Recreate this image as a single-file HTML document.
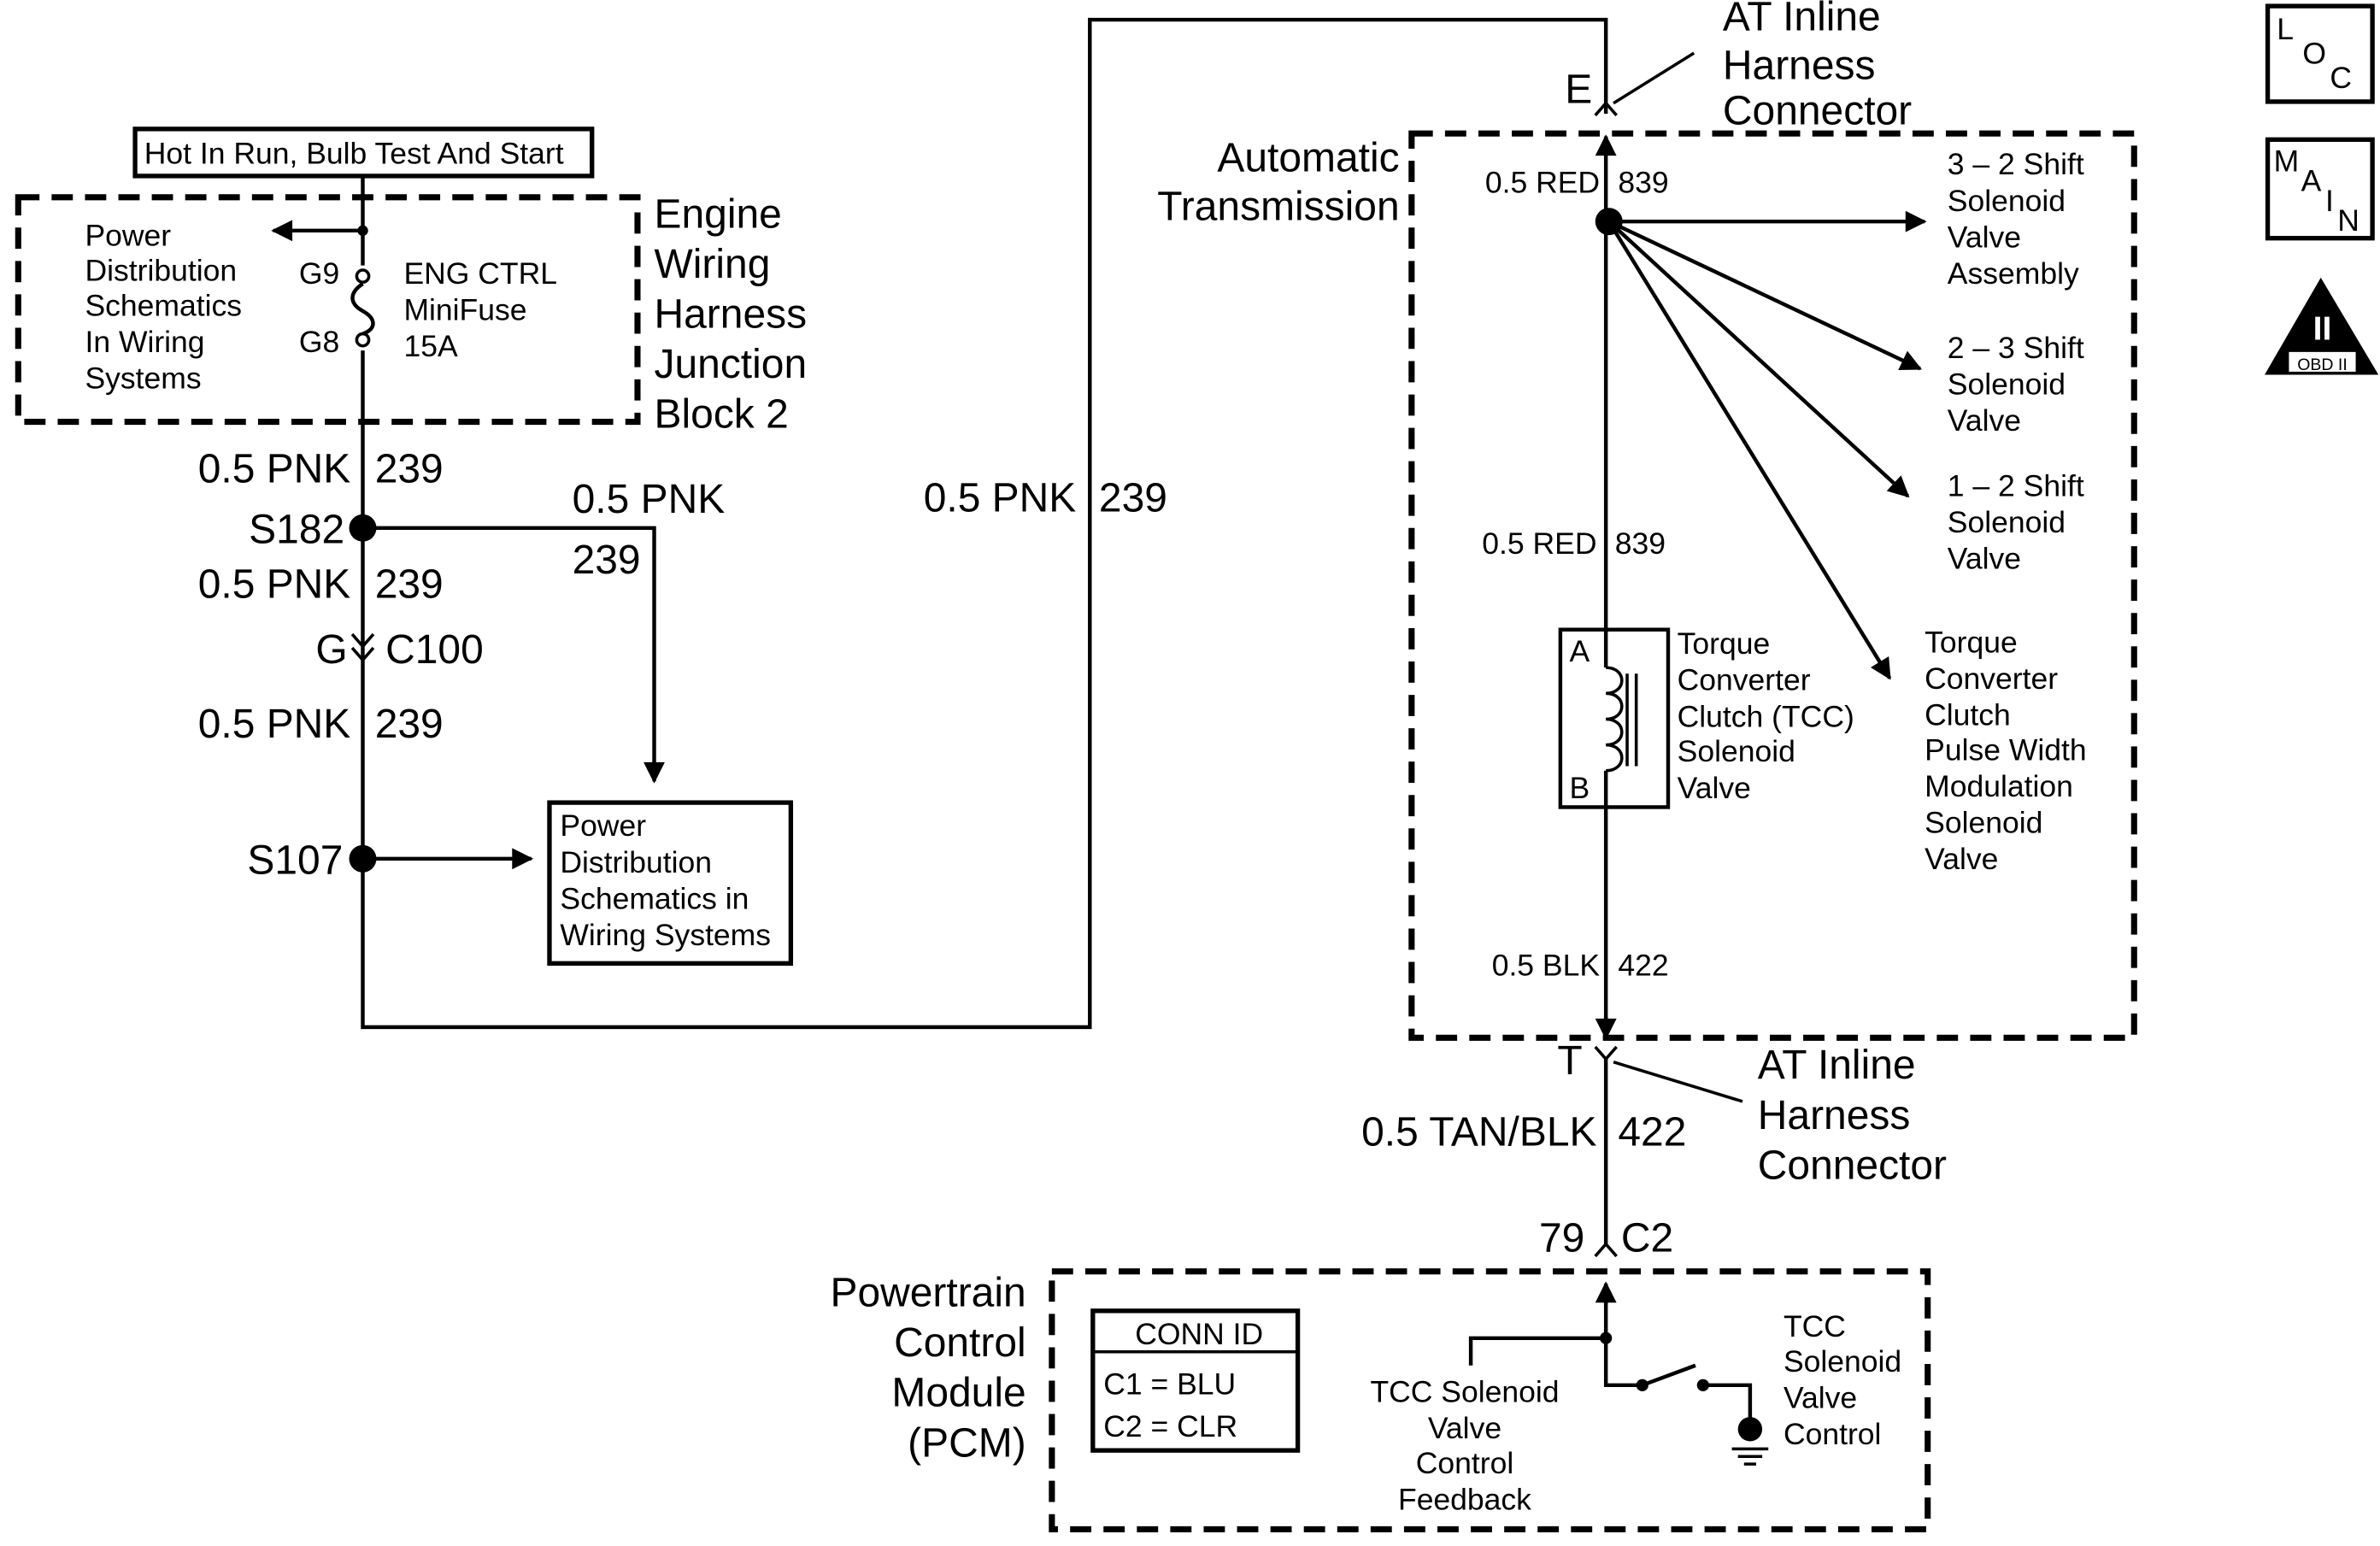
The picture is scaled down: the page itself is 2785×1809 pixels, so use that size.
<!DOCTYPE html>
<html><head><meta charset="utf-8"><style>
html,body{margin:0;padding:0;background:#fff;}
svg{display:block;}
text{font-family:"Liberation Sans",Arial,sans-serif;fill:#000;}
.s{font-size:20px;}
.b{font-size:27px;}
.r{text-anchor:end;}
</style></head><body>
<svg width="2785" height="1809" viewBox="0 0 1568 1019" preserveAspectRatio="none" xmlns="http://www.w3.org/2000/svg">
<defs>
<marker id="ah" viewBox="0 0 10 10" refX="9" refY="5" markerWidth="7" markerHeight="7" orient="auto" markerUnits="userSpaceOnUse">
<path d="M0,0 L10,5 L0,10 z" fill="#000"/></marker>
<marker id="ah2" viewBox="0 0 10 10" refX="9" refY="5" markerWidth="18" markerHeight="14" orient="auto" markerUnits="userSpaceOnUse">
<path d="M0,0 L10,5 L0,10 z" fill="#000"/></marker>
</defs>
<g fill="none" stroke="#000" stroke-width="2.5">
<!-- left top box -->
<rect x="89" y="85" width="301" height="31" stroke-width="3"/>
<rect x="12" y="130" width="408" height="148" stroke-width="4" stroke-dasharray="14 8"/>
<path d="M239,116 V175 M239,231 V677 H718 V13 H1058 V75"/>
<path d="M239,152 H180" marker-end="url(#ah2)"/>
<path d="M239,187 C230,193 230,200 239,205 C248,210 248,217 239,220"/>
<path d="M239,348 H431 V515" marker-end="url(#ah2)"/>
<path d="M239,566 H350" marker-end="url(#ah2)"/>
<path d="M232,418 L239,426 L246,418 M232,427 L239,435 L246,427" stroke-width="2"/>
<rect x="362" y="529" width="159" height="106" stroke-width="3"/>
<!-- right -->
<rect x="930" y="88" width="476" height="596" stroke-width="4" stroke-dasharray="14 8"/>
<path d="M1058,90 V682"/>
<path d="M1058,100 V90" marker-end="url(#ah2)"/>
<path d="M1051,76 L1058,68 L1065,76" stroke-width="2"/>
<path d="M1063,68 L1116,35" stroke-width="2"/>
<path d="M1060,146 H1268" marker-end="url(#ah2)"/>
<path d="M1060,146 L1265,243" marker-end="url(#ah2)"/>
<path d="M1060,146 L1257,327" marker-end="url(#ah2)"/>
<path d="M1060,146 L1245,447" marker-end="url(#ah2)"/>
<rect x="1028" y="415" width="71" height="117" fill="#fff"/>
<path d="M1058,415 V440 M1058,508 V532"/>
<path d="M1058,440 c14,0 14,17 0,17 c14,0 14,17 0,17 c14,0 14,17 0,17 c14,0 14,17 0,17" stroke-width="2"/>
<path d="M1072,444 V505 M1078,444 V505" stroke-width="2"/>
<path d="M1058,670 V684" marker-end="url(#ah2)"/>
<path d="M1051,690 L1058,698 L1065,690" stroke-width="2"/>
<path d="M1058,698 V820"/>
<path d="M1063,700 L1148,726" stroke-width="2"/>
<path d="M1051,828 L1058,820 L1065,828" stroke-width="2"/>
<path d="M1058,860 V846" marker-end="url(#ah2)"/>
<rect x="693" y="838" width="577" height="170" stroke-width="4" stroke-dasharray="14 8"/>
<rect x="720" y="864" width="135" height="92" stroke-width="3"/>
<path d="M720,891 H855" stroke-width="2"/>
<path d="M1058,848 V913 H1082 M969,900 V882 H1058"/>
<path d="M1082,913 L1117,900"/>
<path d="M1122,913 H1153 V942"/>
<path d="M1141,955 H1165 M1145,960 H1161 M1149,965 H1157" stroke-width="2"/>
<!-- icons -->
<rect x="1494" y="4" width="69" height="63" stroke-width="3"/>
<rect x="1494" y="92" width="69" height="65" stroke-width="3"/>
</g>
<g fill="#000">
<circle cx="239" cy="152" r="3.5"/>
<circle cx="239" cy="182" r="4" fill="#fff" stroke="#000" stroke-width="2"/>
<circle cx="239" cy="224" r="4" fill="#fff" stroke="#000" stroke-width="2"/>
<circle cx="239" cy="348" r="9"/>
<circle cx="239" cy="566" r="9"/>
<circle cx="1060" cy="146" r="9"/>
<circle cx="1058" cy="882" r="4"/>
<circle cx="1082" cy="913" r="4"/>
<circle cx="1122" cy="913" r="4"/>
<circle cx="1153" cy="942" r="8"/>
<path d="M1529,183 L1567,247 L1492,247 z"/>
</g>
<rect x="1508" y="232" width="44" height="13" fill="#fff"/>
<text x="1530" y="224" font-size="22" text-anchor="middle" style="fill:#fff;font-weight:bold">II</text>
<text x="1530" y="244" font-size="11" text-anchor="middle">OBD II</text>
<text x="1500" y="26" font-size="20">L</text><text x="1517" y="42" font-size="20">O</text><text x="1535" y="58" font-size="20">C</text>
<text x="1498" y="113" font-size="20">M</text><text x="1516" y="126" font-size="20">A</text><text x="1532" y="139" font-size="20">I</text><text x="1540" y="152" font-size="20">N</text>

<text class="s" x="95" y="108" font-size="19">Hot In Run, Bulb Test And Start</text>
<text class="s" x="56" y="162">Power</text><text class="s" x="56" y="185">Distribution</text><text class="s" x="56" y="208">Schematics</text><text class="s" x="56" y="232">In Wiring</text><text class="s" x="56" y="256">Systems</text>
<text class="s" x="197" y="187">G9</text><text class="s" x="197" y="232">G8</text>
<text class="s" x="266" y="187">ENG CTRL</text><text class="s" x="266" y="211">MiniFuse</text><text class="s" x="266" y="235">15A</text>
<text class="b" x="431" y="150">Engine</text><text class="b" x="431" y="183">Wiring</text><text class="b" x="431" y="216">Harness</text><text class="b" x="431" y="249">Junction</text><text class="b" x="431" y="282">Block 2</text>
<text class="b r" x="231" y="318">0.5 PNK</text><text class="b" x="247" y="318">239</text>
<text class="b r" x="227" y="358">S182</text>
<text class="b" x="377" y="338">0.5 PNK</text><text class="b" x="377" y="378">239</text>
<text class="b r" x="231" y="394">0.5 PNK</text><text class="b" x="247" y="394">239</text>
<text class="b" x="208" y="437">G</text><text class="b" x="254" y="437">C100</text>
<text class="b r" x="231" y="486">0.5 PNK</text><text class="b" x="247" y="486">239</text>
<text class="b r" x="226" y="576">S107</text>
<text class="s" x="369" y="551">Power</text><text class="s" x="369" y="575">Distribution</text><text class="s" x="369" y="599">Schematics in</text><text class="s" x="369" y="623">Wiring Systems</text>
<text class="b r" x="709" y="337">0.5 PNK</text><text class="b" x="724" y="337">239</text>

<text class="b" x="1031" y="68">E</text>
<text class="b" x="1135" y="20">AT Inline</text><text class="b" x="1135" y="52">Harness</text><text class="b" x="1135" y="82">Connector</text>
<text class="b r" x="922" y="113">Automatic</text><text class="b r" x="922" y="145">Transmission</text>
<text class="s r" x="1054" y="127">0.5 RED</text><text class="s" x="1066" y="127">839</text>
<text class="s r" x="1052" y="365">0.5 RED</text><text class="s" x="1064" y="365">839</text>
<text class="s" x="1283" y="115">3 – 2 Shift</text><text class="s" x="1283" y="139">Solenoid</text><text class="s" x="1283" y="163">Valve</text><text class="s" x="1283" y="187">Assembly</text>
<text class="s" x="1283" y="236">2 – 3 Shift</text><text class="s" x="1283" y="260">Solenoid</text><text class="s" x="1283" y="284">Valve</text>
<text class="s" x="1283" y="327">1 – 2 Shift</text><text class="s" x="1283" y="351">Solenoid</text><text class="s" x="1283" y="375">Valve</text>
<text class="s" x="1268" y="430">Torque</text><text class="s" x="1268" y="454">Converter</text><text class="s" x="1268" y="478">Clutch</text><text class="s" x="1268" y="501">Pulse Width</text><text class="s" x="1268" y="525">Modulation</text><text class="s" x="1268" y="549">Solenoid</text><text class="s" x="1268" y="573">Valve</text>
<text class="s" x="1034" y="436">A</text><text class="s" x="1034" y="526">B</text>
<text class="s" x="1105" y="431">Torque</text><text class="s" x="1105" y="455">Converter</text><text class="s" x="1105" y="479">Clutch (TCC)</text><text class="s" x="1105" y="502">Solenoid</text><text class="s" x="1105" y="526">Valve</text>
<text class="s r" x="1054" y="643">0.5 BLK</text><text class="s" x="1066" y="643">422</text>
<text class="b" x="1026" y="708">T</text>
<text class="b" x="1158" y="711">AT Inline</text><text class="b" x="1158" y="744">Harness</text><text class="b" x="1158" y="777">Connector</text>
<text class="b r" x="1052" y="755">0.5 TAN/BLK</text><text class="b" x="1066" y="755">422</text>
<text class="b r" x="1044" y="825">79</text><text class="b" x="1068" y="825">C2</text>
<text class="b r" x="676" y="861">Powertrain</text><text class="b r" x="676" y="894">Control</text><text class="b r" x="676" y="927">Module</text><text class="b r" x="676" y="960">(PCM)</text>
<text class="s" x="790" y="886" text-anchor="middle">CONN ID</text>
<text class="s" x="727" y="919">C1 = BLU</text><text class="s" x="727" y="947">C2 = CLR</text>
<text class="s" x="965" y="924" text-anchor="middle">TCC Solenoid</text><text class="s" x="965" y="948" text-anchor="middle">Valve</text><text class="s" x="965" y="971" text-anchor="middle">Control</text><text class="s" x="965" y="995" text-anchor="middle">Feedback</text>
<text class="s" x="1175" y="881">TCC</text><text class="s" x="1175" y="904">Solenoid</text><text class="s" x="1175" y="928">Valve</text><text class="s" x="1175" y="952">Control</text>
</svg>
</body></html>
